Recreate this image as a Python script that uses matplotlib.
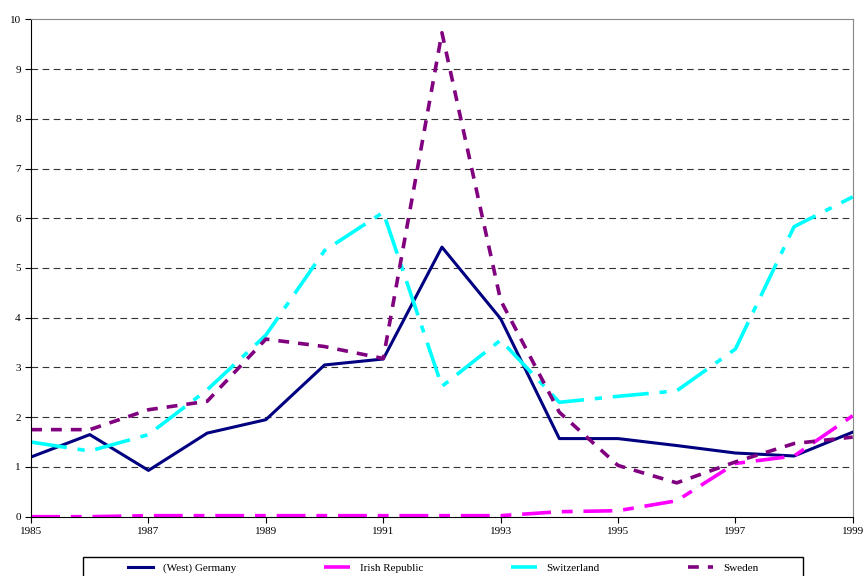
import matplotlib.pyplot as plt
from matplotlib.patches import Rectangle
import numpy as np

plt.rcParams['font.family'] = ['Liberation Serif', 'DejaVu Serif']

years = np.arange(1985, 2000)

germany = [1.2, 1.65, 0.93, 1.68, 1.95, 3.05, 3.17, 5.42, 3.98, 1.57, 1.57, 1.43, 1.28, 1.22, 1.7]
ireland = [0.0, 0.0, 0.02, 0.02, 0.02, 0.02, 0.02, 0.02, 0.02, 0.1, 0.12, 0.32, 1.07, 1.22, 2.03]
switzerland = [1.5, 1.32, 1.65, 2.55, 3.65, 5.35, 6.12, 2.62, 3.55, 2.3, 2.42, 2.53, 3.37, 5.83, 6.43]
sweden = [1.75, 1.75, 2.15, 2.32, 3.57, 3.42, 3.18, 9.73, 4.35, 2.1, 1.03, 0.68, 1.1, 1.47, 1.6]

labels = ["(West) Germany", "Irish Republic", "Switzerland", "Sweden"]

fig = plt.figure(figsize=(8.64, 5.76), dpi=100)
ax = fig.add_axes([0.036, 0.103, 0.951, 0.8635])

ax.plot(years, germany, color="#000080", lw=2.2, label=labels[0])
ax.plot(years, ireland, color="#ff00ff", lw=2.6, dashes=(8, 3, 3, 3), label=labels[1])
ax.plot(years, switzerland, color="#00ffff", lw=2.6, dashes=(10, 3, 2, 3), label=labels[2])
ax.plot(years, sweden, color="#800080", lw=2.6, dashes=(3, 2.5), label=labels[3])

ax.set_xlim(1985, 1999)
ax.set_ylim(0, 10)
ax.set_xticks(np.arange(1985, 2000, 2))
ax.set_yticks(np.arange(0, 11, 1))
ax.tick_params(labelsize=8, length=4, width=0.8, direction="out")
for y in range(1, 10):
    ax.axhline(y, color="#333333", lw=0.8, dashes=(6, 4), zorder=0)

ax.spines["top"].set_color("#888888")
ax.spines["right"].set_color("#888888")
ax.spines["left"].set_color("black")
ax.spines["bottom"].set_color("black")

# legend frame runs off the bottom of the page, like the original
fig.patches.append(Rectangle((83 / 864, -0.02), 720 / 864, 0.02 + 19 / 576,
                             transform=fig.transFigure, fill=False,
                             edgecolor="black", lw=1.0))
leg = fig.legend(loc="center", bbox_to_anchor=(443 / 864, 8 / 576),
                 ncol=4, fontsize=8, frameon=False, handlelength=2.3,
                 handletextpad=0.9, columnspacing=7.9, borderaxespad=0,
                 borderpad=0)

fig.savefig("out.png", dpi=100)
